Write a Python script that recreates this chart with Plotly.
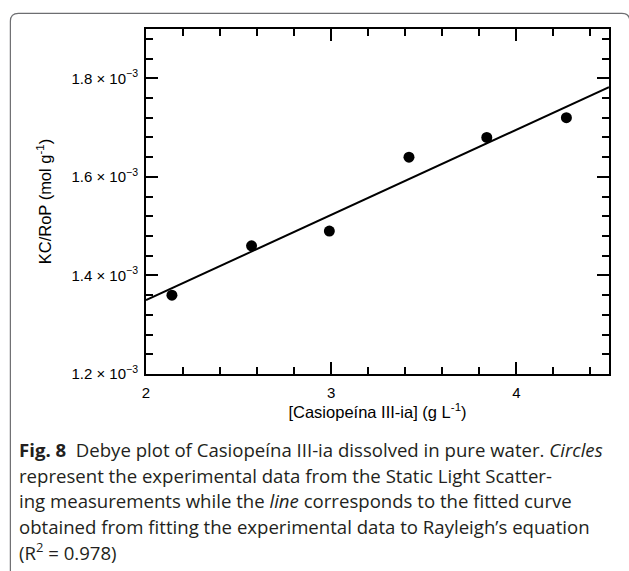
import plotly.graph_objects as go

# ---- data ----
conc = [2.14, 2.57, 2.99, 3.42, 3.84, 4.27]                 # g L^-1
kc_rop = [1.36e-3, 1.46e-3, 1.49e-3, 1.64e-3, 1.68e-3, 1.72e-3]  # mol g^-1
fit_x = [2.0, 4.5]
fit_y = [1.350e-3, 1.782e-3]
y_tickvals = [1.2e-3, 1.4e-3, 1.6e-3, 1.8e-3]
y_ticktext = ["1.2 × 10<sup>−3</sup>", "1.4 × 10<sup>−3</sup>",
              "1.6 × 10<sup>−3</sup>", "1.8 × 10<sup>−3</sup>"]
x_tickvals = [2, 3, 4]
x_ticktext = ["2", "3", "4"]
caption_lines = [
    "<b>Fig. 8</b>  Debye plot of Casiopeína III-ia dissolved in pure water. <i>Circles</i>",
    "represent the experimental data from the Static Light Scatter-",
    "ing measurements while the <i>line</i> corresponds to the fitted curve",
    "obtained from fitting the experimental data to Rayleigh’s equation",
    "(R<sup>2</sup> = 0.978)",
]

W, H = 629, 571
L, R, T, B = 146.3, 609.2, 29.0, 374.0
PW, PH = R - L, B - T

def px(x):
    return (x - L) / PW

def py(y):
    return (B - y) / PH

fig = go.Figure()
fig.add_trace(go.Scatter(x=fit_x, y=fit_y, mode="lines",
                         line=dict(color="black", width=2), showlegend=False))
fig.add_trace(go.Scatter(x=conc, y=kc_rop, mode="markers",
                         marker=dict(color="black", size=11), showlegend=False))

axis_font = dict(family="Liberation Sans, Arial, sans-serif", size=15, color="black")
title_font = dict(family="Liberation Sans, Arial, sans-serif", size=16.5, color="black")

fig.update_xaxes(range=[2, 4.5], tickvals=x_tickvals, ticktext=x_ticktext,
                 ticks="inside", ticklen=12, tickwidth=2, tickcolor="black",
                 showline=True, linewidth=2, linecolor="black", mirror="allticks",
                 showgrid=False, zeroline=False, tickfont=axis_font,
                 ticklabelstandoff=4,
                 minor=dict(ticks="inside", ticklen=7, tickwidth=2, tickcolor="black",
                            dtick=0.2, tick0=2, showgrid=False),
                 title=dict(text="[Casiopeína III-ia] (g L<sup>-1</sup>)",
                            font=title_font, standoff=4))
fig.update_yaxes(range=[1.2e-3, 1.9e-3], tickvals=y_tickvals, ticktext=y_ticktext,
                 ticks="inside", ticklen=12, tickwidth=2, tickcolor="black",
                 showline=True, linewidth=2, linecolor="black", mirror="allticks",
                 showgrid=False, zeroline=False, tickfont=axis_font,
                 ticklabelstandoff=3,
                 minor=dict(ticks="inside", ticklen=7, tickwidth=2, tickcolor="black",
                            dtick=0.04e-3, tick0=1.2e-3, showgrid=False),
                 title=dict(text="KC/RoP (mol g<sup>-1</sup>)",
                            font=title_font, standoff=16))

annotations = []
line_y = [449, 475, 500.5, 526, 551.5]
for txt, yy in zip(caption_lines, line_y):
    annotations.append(dict(text=txt, xref="paper", yref="paper",
                            x=px(17), y=py(yy), xanchor="left", yanchor="middle",
                            showarrow=False,
                            font=dict(family="Open Sans, Noto Sans, sans-serif",
                                      size=18.6, color="#231f20")))

# rounded frame around the figure (left + top edges, top-right corner)
path = (f"M {px(10.7)},{py(575)} L {px(10.7)},{py(21.3)} "
        f"Q {px(10.7)},{py(13.3)} {px(18.7)},{py(13.3)} "
        f"L {px(622)},{py(13.3)} Q {px(630)},{py(13.3)} {px(630)},{py(21.3)} "
        f"L {px(630)},{py(575)}")
shapes = [dict(type="path", xref="paper", yref="paper", path=path,
               line=dict(color="#6d6e71", width=1.2), layer="above")]

fig.update_layout(width=W, height=H,
                  margin=dict(l=L, r=W - R, t=T, b=H - B, autoexpand=False),
                  paper_bgcolor="white", plot_bgcolor="white",
                  annotations=annotations, shapes=shapes, showlegend=False)

fig.write_html("out.html", config={"displayModeBar": False},
               post_script="document.body.style.margin='0';document.body.style.overflow='hidden';")
